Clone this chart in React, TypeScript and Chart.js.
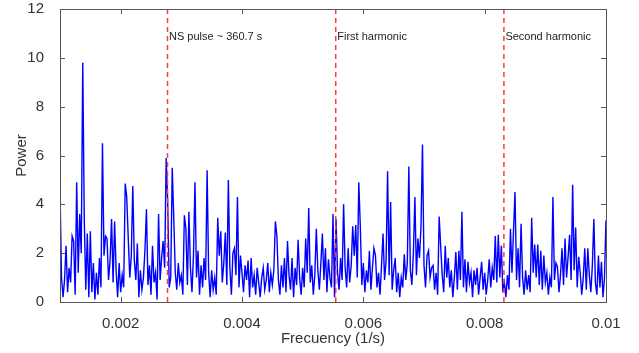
import { useEffect, useRef } from "react";
import { Chart, registerables } from "chart.js";
Chart.register(...registerables);

const FREQ_START = 0.001;
const FREQ_STEP = 0.000025;

const power = [
  4.6, 1.0, 0.2, 0.9, 2.3, 0.4, 1.4, 0.8, 2.7, 2.5,
  0.3, 4.9, 1.2, 3.6, 2.0, 9.8, 3.4, 0.5, 2.8, 0.2,
  2.9, 0.4, 1.6, 0.1, 1.2, 0.3, 1.8, 0.6, 6.5, 1.9,
  2.7, 2.6, 0.9, 1.7, 3.4, 0.8, 3.3, 1.3, 0.2, 1.6,
  0.4, 1.1, 0.6, 4.85, 4.3, 2.6, 1.0, 1.9, 4.75, 1.7,
  0.9, 2.4, 0.2, 1.3, 0.5, 1.0, 2.1, 3.8, 0.7, 1.5,
  0.3, 2.3, 0.8, 1.2, 0.1, 3.6, 0.9, 1.8, 2.5, 1.4,
  5.9, 4.1, 0.6, 1.0, 5.5, 3.45, 1.2, 0.5, 1.6, 0.8,
  1.1, 0.3, 3.55, 3.0, 0.7, 3.7, 1.4, 0.4, 1.9, 4.9,
  1.0, 2.1, 0.3, 1.5, 0.6, 1.8, 0.9, 5.4, 1.2, 0.2,
  1.3, 0.5, 1.0, 0.3, 3.45, 1.9, 2.9, 0.8, 1.6, 2.85,
  0.7, 5.0, 1.4, 0.3, 2.0, 2.2, 1.1, 4.3, 0.6, 1.9,
  1.2, 0.4, 1.5, 0.9, 1.7, 0.2, 1.8, 0.6, 1.1, 0.3,
  1.4, 0.8, 0.2, 1.0, 1.4, 0.5, 0.9, 1.6, 0.4, 1.2,
  0.7, 1.3, 3.3, 2.7, 0.9, 0.3, 1.5, 0.6, 1.8, 0.4,
  2.5, 1.1, 0.5, 1.8, 0.2, 1.4, 0.7, 2.55, 1.0, 0.3,
  1.4, 0.6, 2.6, 1.2, 3.85, 0.8, 1.5, 0.3, 1.1, 3.0,
  1.3, 0.5, 1.6, 2.8, 0.9, 2.2, 0.4, 1.75, 1.0, 0.6,
  3.6, 0.2, 3.4, 1.2, 0.5, 1.8, 0.9, 4.0, 1.4, 0.6,
  2.2, 0.8, 1.5, 3.1, 1.9, 3.15, 1.0, 4.9, 3.1, 0.7,
  1.6, 0.4, 1.3, 0.8, 2.1, 0.5, 1.4, 2.2, 1.9, 0.6,
  1.2, 0.3, 1.5, 2.8, 0.9, 1.7, 5.35, 1.1, 4.1, 0.5,
  1.3, 1.8, 0.4, 1.2, 0.2, 1.0, 0.6, 1.95, 0.9, 1.6,
  5.55, 1.3, 0.7, 2.0, 4.3, 1.1, 2.6, 1.8, 3.05, 6.45,
  1.5, 0.6, 1.9, 2.1, 1.0, 1.4, 1.5, 0.5, 1.2, 0.3,
  3.5, 2.3, 1.1, 0.4, 2.3, 1.0, 1.8, 0.6, 1.3, 0.2,
  1.0, 2.05, 0.5, 2.1, 0.9, 3.7, 0.6, 1.75, 0.4, 1.65,
  0.8, 1.2, 0.2, 1.3, 0.7, 1.4, 0.3, 1.0, 1.65, 0.5,
  1.2, 0.3, 0.9, 1.75, 0.6, 1.4, 0.9, 2.7, 0.8, 2.75,
  1.0, 2.3, 0.4, 0.8, 0.2, 1.1, 0.5, 3.0, 1.2, 2.9,
  4.5, 0.9, 2.2, 0.6, 3.2, 1.0, 0.3, 1.3, 0.5, 1.1,
  0.4, 3.45, 1.2, 2.35, 1.0, 2.35, 0.7, 2.1, 0.5, 1.9,
  0.8, 1.2, 0.3, 1.0, 0.6, 4.3, 0.9, 1.6, 1.45, 0.4,
  1.1, 2.2, 0.7, 2.6, 1.0, 1.85, 2.75, 0.9, 4.8, 1.3,
  3.05, 0.6, 1.85, 1.2, 0.3, 1.0, 2.2, 0.5, 2.2, 1.1,
  0.4, 1.5, 3.4, 0.8, 0.3, 1.9, 0.6, 1.65, 0.2, 1.0,
  3.35,
];

const harmonicFreqs = [0.0027724, 0.0055448, 0.0083172];
const harmonicLabels = ["NS pulse ~ 360.7 s", "First harmonic", "Second harmonic"];
const labelPower = 10.85;

const xTicks = [0.002, 0.004, 0.006, 0.008, 0.01];
const xTickLabels = ["0.002", "0.004", "0.006", "0.008", "0.01"];
const yTicks = [0, 2, 4, 6, 8, 10, 12];

const X_MIN = 0.001;
const X_MAX = 0.01;
const Y_MIN = 0;
const Y_MAX = 12;

const FONT = "'Liberation Sans', Arial, sans-serif";

const framePlugin = {
  id: "framePlugin",
  afterDraw(chart: any) {
    const { ctx, chartArea, scales } = chart;
    const xs = scales.x;
    const ys = scales.y;
    ctx.save();
    ctx.strokeStyle = "#555";
    ctx.lineWidth = 1;
    ctx.strokeRect(
      Math.round(chartArea.left) + 0.5,
      Math.round(chartArea.top) + 0.5,
      Math.round(chartArea.right - chartArea.left),
      Math.round(chartArea.bottom - chartArea.top)
    );
    const tl = 5;
    ctx.beginPath();
    xTicks.forEach((v) => {
      const px = Math.round(xs.getPixelForValue(v)) + 0.5;
      ctx.moveTo(px, chartArea.bottom);
      ctx.lineTo(px, chartArea.bottom - tl);
      ctx.moveTo(px, chartArea.top);
      ctx.lineTo(px, chartArea.top + tl);
    });
    yTicks.forEach((v) => {
      const py = Math.round(ys.getPixelForValue(v)) + 0.5;
      ctx.moveTo(chartArea.left, py);
      ctx.lineTo(chartArea.left + tl, py);
      ctx.moveTo(chartArea.right, py);
      ctx.lineTo(chartArea.right - tl, py);
    });
    ctx.stroke();

    ctx.fillStyle = "#222";
    ctx.font = `11px ${FONT}`;
    ctx.textBaseline = "middle";
    ctx.textAlign = "left";
    harmonicFreqs.forEach((f, i) => {
      const px = xs.getPixelForValue(f) + 1.5;
      const py = ys.getPixelForValue(labelPower);
      ctx.fillText(harmonicLabels[i], px, py);
    });
    ctx.restore();
  },
};

export default function App() {
  const ref = useRef<HTMLCanvasElement | null>(null);
  useEffect(() => {
    if (!ref.current) return;
    const mainData = power.map((p, i) => ({ x: FREQ_START + i * FREQ_STEP, y: p }));
    const harmonicSets = harmonicFreqs.map((f) => ({
      label: "h" + f,
      data: [
        { x: f, y: Y_MIN },
        { x: f, y: Y_MAX },
      ],
      borderColor: "#ff3a3a",
      borderWidth: 1.5,
      borderDash: [5, 4],
      pointRadius: 0,
      fill: false,
      order: 0,
    }));
    const chart = new Chart(ref.current, {
      type: "line",
      data: {
        datasets: [
          {
            label: "Power",
            data: mainData,
            borderColor: "#0000ff",
            borderWidth: 1.4,
            pointRadius: 0,
            fill: false,
            tension: 0,
            order: 1,
          },
          ...harmonicSets,
        ],
      },
      options: {
        animation: false,
        responsive: true,
        maintainAspectRatio: false,
        layout: { padding: { top: 9, right: 33, left: 0, bottom: 0 } },
        plugins: { legend: { display: false }, tooltip: { enabled: false } },
        scales: {
          x: {
            type: "linear",
            min: X_MIN,
            max: X_MAX,
            afterBuildTicks: (s: any) => {
              s.ticks = xTicks.map((v) => ({ value: v }));
            },
            afterFit: (s: any) => {
              s.height = 51;
              s.paddingLeft = 0;
              s.paddingRight = 0;
            },
            grid: { display: false },
            border: { display: false },
            ticks: {
              padding: 5,
              color: "#333",
              font: { family: FONT, size: 15 },
              maxRotation: 0,
              autoSkip: false,
              callback: (v: any) => {
                const idx = xTicks.findIndex((t) => Math.abs(t - v) < 1e-9);
                return idx >= 0 ? xTickLabels[idx] : "";
              },
            },
            title: {
              display: true,
              text: "Frecuency (1/s)",
              color: "#333",
              font: { family: FONT, size: 15 },
              padding: { top: 0, bottom: 5 },
            },
          },
          y: {
            min: Y_MIN,
            max: Y_MAX,
            afterBuildTicks: (s: any) => {
              s.ticks = yTicks.map((v) => ({ value: v }));
            },
            afterFit: (s: any) => {
              s.width = 60;
              s.paddingTop = 0;
              s.paddingBottom = 0;
            },
            grid: { display: false },
            border: { display: false },
            ticks: {
              padding: 8,
              color: "#333",
              font: { family: FONT, size: 15 },
            },
            title: {
              display: true,
              text: "Power",
              color: "#333",
              font: { family: FONT, size: 15 },
              padding: { top: 13, bottom: 0 },
            },
          },
        },
      },
      plugins: [framePlugin],
    });
    return () => chart.destroy();
  }, []);
  return (
    <div style={{ position: "fixed", left: 0, top: 0, width: 639, height: 353, background: "#fff" }}>
      <canvas ref={ref} />
    </div>
  );
}
